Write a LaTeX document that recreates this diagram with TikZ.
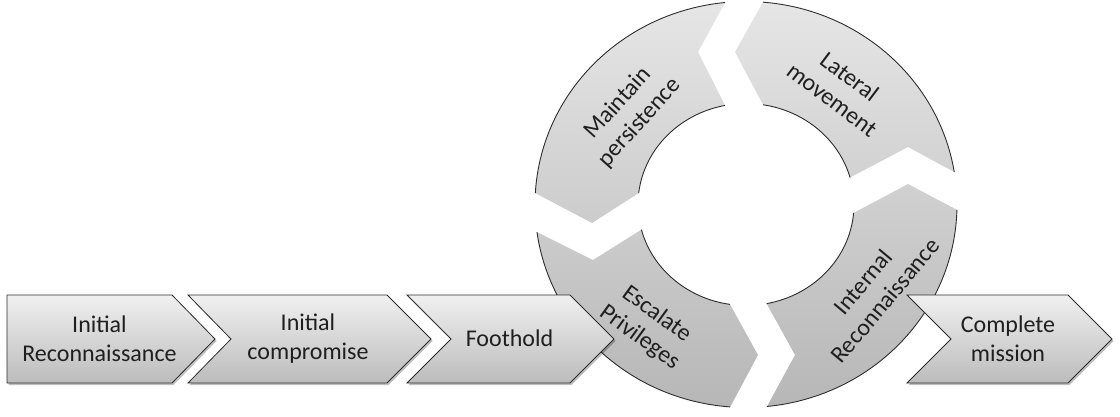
\documentclass[tikz,border=0pt]{standalone}
\usepackage{fontspec}
\setmainfont{Carlito}
\usetikzlibrary{calc}
\definecolor{gTop}{RGB}{240,240,240}
\definecolor{gBot}{RGB}{188,188,188}
\definecolor{edge}{RGB}{45,45,45}
\definecolor{ringTop}{RGB}{230,230,230}
\definecolor{ringBot}{RGB}{182,182,182}
\newcommand\ringseg[6]{%
  \begin{scope}
    \clip (C) ++(#1:211 and 203) arc[start angle=#1, end angle=#2, x radius=211, y radius=203]
      -- #3 -- ($(C)+(#4:108 and 101)$)
      arc[start angle=#4, end angle=#5, x radius=108, y radius=101] -- #6 -- cycle;
    \shade[top color=ringTop, bottom color=ringBot] (525,2) rectangle (970,416);
  \end{scope}
  \draw[arcline] (C) ++(#1:211 and 203) arc[start angle=#1, end angle=#2, x radius=211, y radius=203];
  \draw[arcline] ($(C)+(#4:108 and 101)$) arc[start angle=#4, end angle=#5, x radius=108, y radius=101];
}
\begin{document}
\begin{tikzpicture}[x=1pt,y=1pt,
  lbl/.style={font=\fontsize{24}{29}\selectfont, align=center, text=black!88, inner sep=0pt},
  chevron/.style={top color=gTop, bottom color=gBot, draw=edge, line width=0.8pt, line join=miter,
    preaction={fill=black, opacity=0.25, transform canvas={shift={(1.5pt,-2pt)}}}},
  arcline/.style={draw=edge, line width=0.9pt},
]
\useasboundingbox (0,0) rectangle (1120,416);
\coordinate (C) at (746,211.5);

% ring segments (counter-clockwise cycle)
\ringseg{95.7}{176.8}{(592,193)}{173.5}{101.2}{(698,364)}   % Maintain persistence
\ringseg{187.8}{265.7}{(758,61)}{261.5}{194.4}{(593,156)}   % Escalate Privileges
\ringseg{275.7}{358.5}{(908,232)}{355.2}{281}{(795,61)}     % Internal Reconnaissance
\ringseg{9.2}{85.4}{(735,364)}{80.9}{15.5}{(908,269)}       % Lateral movement

\node[lbl, rotate=48]  (maint) at (629,303) {Maintain\\persistence};
\node[lbl, rotate=-37] (lat)   at (841,328) {Lateral\\movement};
\node[lbl, rotate=-36] (esc)   at (648,90)  {Escalate\\Privileges};
\node[lbl, rotate=50]  (intr)  at (874,125) {Internal\\Reconnaissance};

% chevrons
\path[chevron] (7,121) -- (172,121) -- (215,77) -- (172,33) -- (7,33) -- cycle;
\path[chevron] (188,121) -- (387,121) -- (431,77) -- (387,33) -- (188,33) -- (231,77) -- cycle;
\path[chevron] (407,121) -- (570,121) -- (614,77) -- (570,33) -- (407,33) -- (451,77) -- cycle;
\path[chevron] (907,121) -- (1068,121) -- (1112,77) -- (1068,33) -- (907,33) -- (951,77) -- cycle;

\node[lbl] (ir)   at (99.5,77)  {Initial\\Reconnaissance};
\node[lbl] (ic)   at (308,77)   {Initial\\compromise};
\node[lbl] (foot) at (509.5,77.5) {Foothold};
\node[lbl] (comp) at (1008,77)  {Complete\\mission};
\end{tikzpicture}
\end{document}
